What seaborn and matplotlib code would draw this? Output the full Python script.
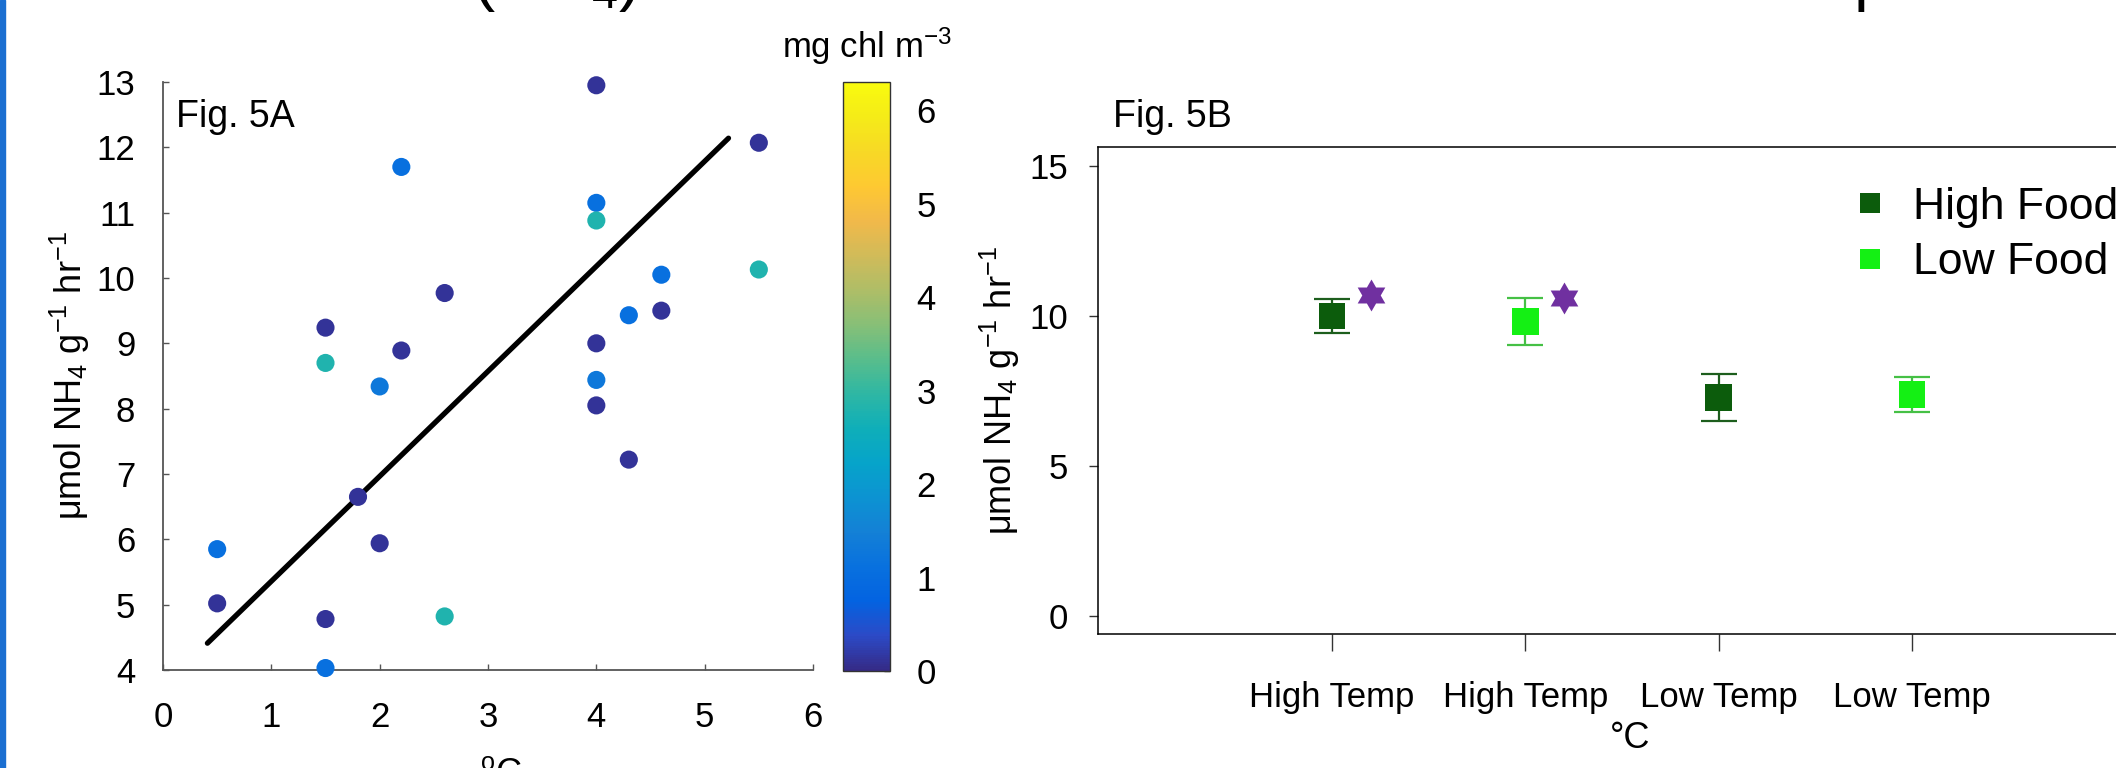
import numpy as np
import pandas as pd
import matplotlib
matplotlib.use("Agg")
import matplotlib.pyplot as plt
import seaborn as sns
from matplotlib.colors import LinearSegmentedColormap, Normalize
from matplotlib.cm import ScalarMappable
from matplotlib.path import Path
from matplotlib.lines import Line2D
from matplotlib.patches import Rectangle

# ---------------- data ----------------
# Fig. 5A: excretion rate vs temperature, coloured by chlorophyll
temp = [4.0, 2.2, 5.5, 4.0, 4.0, 5.5, 4.6, 2.6, 4.3, 4.6, 1.5, 4.0, 2.2,
        1.5, 2.0, 4.0, 4.0, 4.3, 1.8, 2.0, 0.5, 0.5, 1.5, 2.6, 1.5]
rate = [12.95, 11.70, 12.07, 11.15, 10.88, 10.13, 10.05, 9.77, 9.43, 9.50,
        9.24, 9.00, 8.89, 8.70, 8.34, 8.44, 8.05, 7.22, 6.65, 5.94, 5.85,
        5.02, 4.78, 4.82, 4.03]
chl = [0.1, 1.1, 0.1, 1.1, 2.8, 2.8, 1.1, 0.1, 1.1, 0.1, 0.1, 0.1, 0.1,
       2.8, 1.3, 1.3, 0.1, 0.1, 0.1, 0.1, 1.1, 0.1, 0.1, 2.8, 1.1]
fit_x = [0.41, 5.22]
fit_y = [4.41, 12.14]
cbar_ticks = [0, 1, 2, 3, 4, 5, 6]

# Fig. 5B: treatment means
treat_labels = ["High Temp", "High Temp", "Low Temp", "Low Temp"]
food = ["High Food", "Low Food", "High Food", "Low Food"]
means = [10.0, 9.82, 7.28, 7.38]
errs = [0.56, 0.79, 0.79, 0.57]
star_y = [10.69, 10.59]  # significance markers for the first two treatments

# ---------------- style ----------------
sns.set_theme(style="white")
plt.rcParams["font.family"] = ["Liberation Sans", "DejaVu Sans"]
plt.rcParams["mathtext.fontset"] = "custom"
plt.rcParams["mathtext.rm"] = "Liberation Sans"
plt.rcParams["mathtext.it"] = "Liberation Sans:italic"
plt.rcParams["mathtext.bf"] = "Liberation Sans:bold"
plt.rcParams["mathtext.default"] = "regular"
for k in ["text.color", "axes.labelcolor", "xtick.labelcolor", "ytick.labelcolor"]:
    plt.rcParams[k] = "black"

parula_pts = [
    (0.2081, 0.1663, 0.5292), (0.1707, 0.2919, 0.7792), (0.0117, 0.3875, 0.8820),
    (0.0329, 0.4430, 0.8720), (0.0779, 0.5040, 0.8384), (0.0488, 0.5772, 0.8228),
    (0.0231, 0.6418, 0.7913), (0.0590, 0.6838, 0.7254), (0.1801, 0.7177, 0.6424),
    (0.3482, 0.7424, 0.5473), (0.5300, 0.7491, 0.4661), (0.6834, 0.7435, 0.4044),
    (0.8185, 0.7327, 0.3498), (0.9450, 0.7261, 0.2886), (0.9955, 0.7861, 0.1967),
    (0.9697, 0.8481, 0.1475), (0.9598, 0.9218, 0.0948), (0.9763, 0.9831, 0.0538)]
parula = LinearSegmentedColormap.from_list("parula", parula_pts)
norm = Normalize(vmin=0, vmax=6.3)

W, H = 2116, 768
fig = plt.figure(figsize=(W / 100, H / 100), dpi=100)


def fx(px):
    return px / W


def fy(py):
    return 1 - py / H


ax1 = fig.add_axes([fx(163), fy(670), 650 / W, 588 / H])
cax = fig.add_axes([fx(843), fy(671), 47 / W, 589 / H])
ax2 = fig.add_axes([fx(1098), fy(634), 1048 / W, 487 / H])

FS = 25

# ---------------- Fig. 5A ----------------
dfA = pd.DataFrame({"temp": temp, "rate": rate, "chl": chl})
sns.lineplot(x=fit_x, y=fit_y, color="black", linewidth=3.8, ax=ax1, zorder=3)
sns.scatterplot(data=dfA, x="temp", y="rate", hue="chl", palette=parula,
                hue_norm=norm, s=170, linewidth=0, legend=False, ax=ax1,
                zorder=4, clip_on=False)
ax1.set_xlim(0, 6)
ax1.set_ylim(4, 13)
ax1.set_xticks(range(0, 7))
ax1.set_yticks(range(4, 14))
for s in ["top", "right"]:
    ax1.spines[s].set_visible(False)
for s in ["left", "bottom"]:
    ax1.spines[s].set_color("#555555")
    ax1.spines[s].set_linewidth(1.3)
ax1.tick_params(axis="x", direction="in", length=4, width=1, color="#555555",
                labelsize=FS, pad=22)
ax1.tick_params(axis="y", direction="in", length=4, width=1, color="#555555",
                labelsize=FS, pad=20)
ax1.tick_params(bottom=True, left=True)
ax1.set_ylabel("μmol NH$_4$ g$^{-1}$ hr$^{-1}$", fontsize=26, va="center")
ax1.yaxis.set_label_coords(-0.143, 0.5)
ax1.set_xlabel("$^{o}$C", fontsize=26, va="top")
ax1.xaxis.set_label_coords(0.52, -0.148)
ax1.text(0.02, 0.94, "Fig. 5A", transform=ax1.transAxes, fontsize=27,
         va="center", ha="left")
ax1.set_facecolor("white")

# colorbar
cb = fig.colorbar(ScalarMappable(norm=norm, cmap=parula), cax=cax)
cb.set_ticks(cbar_ticks)
cb.outline.set_linewidth(1.0)
cb.outline.set_edgecolor("#333333")
cax.tick_params(direction="in", length=4, width=1, labelsize=FS, pad=19,
                color="#333333", right=True)
fig.text(fx(867), fy(58), "mg chl m$^{-3}$", fontsize=25, ha="center",
         va="baseline")

# ---------------- Fig. 5B ----------------
pos = np.arange(1, len(means) + 1)
dfB = pd.DataFrame({"pos": pos, "mean": means, "food": food})
food_colors = {"High Food": "#0c5c0c", "Low Food": "#14f014"}
err_colors = {"High Food": "#1d5e1d", "Low Food": "#45c045"}
for p, m, e, f in zip(pos, means, errs, food):
    ax2.errorbar(p, m, yerr=e, fmt="none", ecolor=err_colors[f],
                 elinewidth=1.6, capsize=13, capthick=1.6, zorder=2)
sns.scatterplot(data=dfB, x="pos", y="mean", hue="food", palette=food_colors,
                marker="s", s=19 ** 2, linewidth=0, legend=False, ax=ax2,
                zorder=3)

# hexagram marker for significance
ang = np.deg2rad(90 + 30 * np.arange(12))
rad = np.where(np.arange(12) % 2 == 0, 1.0, 1 / np.sqrt(3))
verts = np.column_stack([rad * np.cos(ang), rad * np.sin(ang)])
verts = np.vstack([verts, verts[:1]])
hexagram = Path(verts, [Path.MOVETO] + [Path.LINETO] * 11 + [Path.CLOSEPOLY])
sns.scatterplot(x=pos[:2] + 0.2, y=star_y, marker=hexagram, s=23 ** 2,
                color="#7030a0", linewidth=0, ax=ax2, zorder=4)

ax2.set_xlim(-0.212, 5.212)
ax2.set_ylim(-0.6, 15.63)
ax2.set_xticks(pos)
ax2.set_xticklabels(treat_labels)
ax2.set_yticks([0, 5, 10, 15])
for s in ["top", "left", "bottom", "right"]:
    ax2.spines[s].set_color("black")
    ax2.spines[s].set_linewidth(1.1)
ax2.tick_params(axis="x", direction="out", length=12, width=1, color="#333333",
                labelsize=FS, pad=22, bottom=True)
ax2.tick_params(axis="y", direction="out", length=6.5, width=1, color="#333333",
                labelsize=FS, pad=15, left=True)
ax2.set_ylabel("μmol NH$_4$ g$^{-1}$ hr$^{-1}$", fontsize=26, va="center")
ax2.yaxis.set_label_coords(-0.0935, 0.5)
ax2.set_xlabel("°C", fontsize=26, va="center")
ax2.xaxis.set_label_coords(0.508, -0.2136)
fig.text(fx(1113), fy(117), "Fig. 5B", fontsize=27, ha="left", va="center")

handles = [Line2D([], [], linestyle="none", marker="s", markersize=14.4,
                  markeredgewidth=0, color=food_colors[k])
           for k in ["High Food", "Low Food"]]
ax2.legend(handles, ["High Food", "Low Food"], loc="upper left",
           bbox_to_anchor=(fx(1859), fy(187)), bbox_transform=fig.transFigure,
           frameon=False, fontsize=32, handlelength=0.5, handletextpad=0.72,
           labelspacing=0.32, borderpad=0, borderaxespad=0)

# cut-off slide title fragments at the top edge
fig.text(fx(472), fy(-2), "(NH$_4$)", fontsize=48, ha="left", va="baseline")
fig.text(fx(1854), fy(-2), "p", fontsize=48, ha="left", va="baseline")

# slide border on the left
fig.add_artist(Rectangle((0, 0), 5 / W, 1, transform=fig.transFigure,
                         color="#1b6fd1", zorder=10))

fig.savefig("out.png", dpi=100)
